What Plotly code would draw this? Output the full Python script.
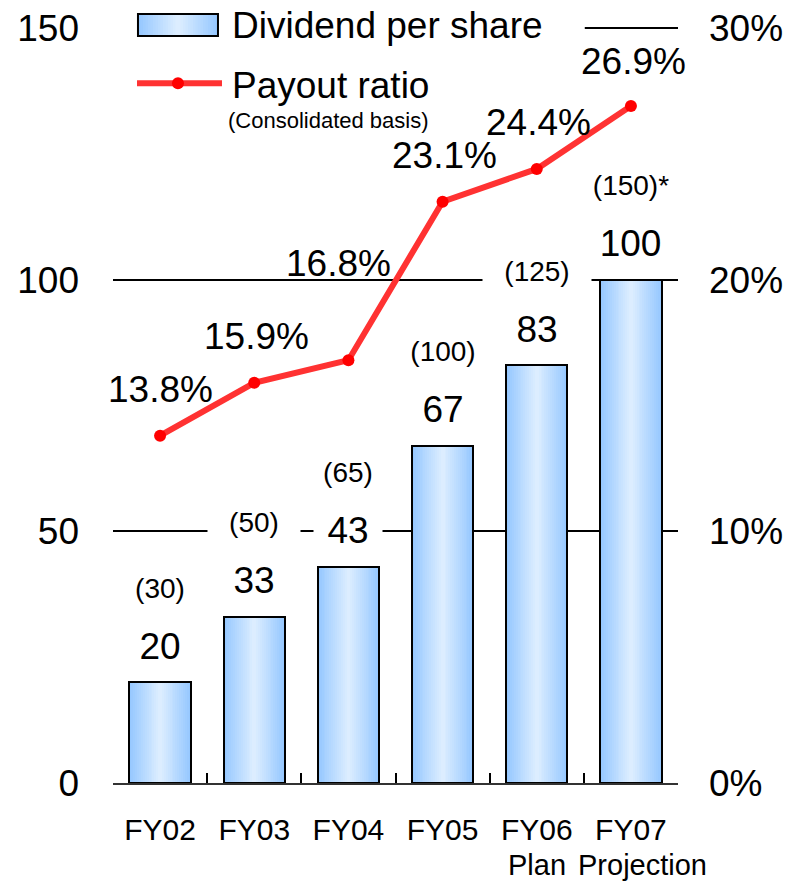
import plotly.graph_objects as go

# ---------------- data ----------------
categories = ["FY02", "FY03", "FY04", "FY05", "FY06", "FY07"]
sub_labels = ["", "", "", "", "Plan", "Projection"]
dividend = [20, 33, 43, 67, 83, 100]
dividend_note = ["(30)", "(50)", "(65)", "(100)", "(125)", "(150)*"]
payout = [13.8, 15.9, 16.8, 23.1, 24.4, 26.9]
left_ticks = [0, 50, 100, 150]
right_ticks = [0, 10, 20, 30]
right_tick_labels = ["0%", "10%", "20%", "30%"]

# ---------------- styles ----------------
FONT = "Liberation Sans, Arial, sans-serif"
BAR_W = 0.65
EDGE = (150, 200, 255)
CENTER = (220, 237, 255)
N_LAYERS = 16
pct_yshift = [46, 46, 97, 46, 46, 45]
pct_xshift = [0, 2, -10, 2, 2, 3]
sub_xshift = [0, 0, 0, 0, 0, 12]
Y_TOP = 150.4   # tiny headroom so the 150 gridline is drawn


def mix(t):
    return "rgb(%d,%d,%d)" % tuple(round(EDGE[k] + (CENTER[k] - EDGE[k]) * t) for k in range(3))


fig = go.Figure()

# gradient bars built from overlaid bars of decreasing width
for i in range(N_LAYERS):
    t = i / (N_LAYERS - 1)
    w = BAR_W * (1 - i / N_LAYERS)
    fig.add_trace(go.Bar(
        x=categories, y=dividend, width=w,
        marker=dict(color=mix(t), line=dict(width=0)),
        showlegend=False, hoverinfo="skip"))
# outline
fig.add_trace(go.Bar(
    x=categories, y=dividend, width=BAR_W,
    marker=dict(color="rgba(0,0,0,0)", line=dict(color="black", width=2)),
    showlegend=False, name="Dividend per share"))

# payout ratio line
fig.add_trace(go.Scatter(
    x=categories, y=payout, yaxis="y2", mode="lines+markers",
    line=dict(color="rgb(255,50,50)", width=6),
    marker=dict(color="rgb(255,0,0)", size=12),
    showlegend=False, name="Payout ratio"))

annotations = []
for c, v in zip(categories, dividend):
    s = str(v)
    annotations.append(dict(
        x=c, y=v, xref="x", yref="y", text=s, showarrow=False,
        yshift=36, yanchor="middle", bgcolor="white", borderpad=0,
        width=23 * len(s) + 22,
        font=dict(family=FONT, size=37, color="black")))
for c, v, s in zip(categories, dividend, dividend_note):
    annotations.append(dict(
        x=c, y=v, xref="x", yref="y", text=s, showarrow=False,
        yshift=94, yanchor="middle", bgcolor="white", borderpad=0,
        width=16 * len(s) + 28,
        font=dict(family=FONT, size=28, color="black")))
for c, p, ys, xs in zip(categories, payout, pct_yshift, pct_xshift):
    annotations.append(dict(
        x=c, y=p, xref="x", yref="y2", text="%.1f%%" % p, showarrow=False,
        yshift=ys, xshift=xs, yanchor="middle",
        font=dict(family=FONT, size=37, color="black")))
for c, s, xs in zip(categories, sub_labels, sub_xshift):
    if s:
        annotations.append(dict(
            x=c, y=0, xref="x", yref="paper", text=s, showarrow=False,
            yshift=-82, xshift=xs, yanchor="middle",
            font=dict(family=FONT, size=29, color="black")))

# manual legend
annotations += [
    dict(x=0.207, y=1.0013, xref="paper", yref="paper", text="Dividend per share",
         showarrow=False, xanchor="left", yanchor="middle",
         font=dict(family=FONT, size=37, color="black")),
    dict(x=0.207, y=0.9219, xref="paper", yref="paper", text="Payout ratio",
         showarrow=False, xanchor="left", yanchor="middle",
         font=dict(family=FONT, size=37, color="black")),
    dict(x=0.200, y=0.8755, xref="paper", yref="paper", text="(Consolidated basis)",
         showarrow=False, xanchor="left", yanchor="middle",
         font=dict(family=FONT, size=22, color="black")),
]

shapes = [
    # white background of legend hiding the top gridline
    dict(type="rect", xref="paper", yref="paper", x0=-0.02, x1=0.835, y0=0.985, y1=1.02,
         fillcolor="white", line=dict(width=0), layer="above"),
]
lx0, lx1, ly0, ly1 = 0.0442, 0.1858, 0.9868, 1.0159
lc = (lx0 + lx1) / 2
for i in range(N_LAYERS):
    t = i / (N_LAYERS - 1)
    hw = (lx1 - lx0) / 2 * (1 - i / N_LAYERS)
    shapes.append(dict(type="rect", xref="paper", yref="paper",
                       x0=lc - hw, x1=lc + hw, y0=ly0, y1=ly1,
                       fillcolor=mix(t), line=dict(width=0), layer="above"))
shapes.append(dict(type="rect", xref="paper", yref="paper", x0=lx0, x1=lx1, y0=ly0, y1=ly1,
                   fillcolor="rgba(0,0,0,0)", line=dict(color="black", width=2), layer="above"))
shapes.append(dict(type="line", xref="paper", yref="paper", x0=0.0425, x1=0.1929,
                   y0=0.9245, y1=0.9245, line=dict(color="rgb(255,50,50)", width=6),
                   layer="above"))
shapes.append(dict(type="circle", xref="paper", yref="paper", xsizemode="pixel",
                   ysizemode="pixel", xanchor=0.115, yanchor=0.9245,
                   x0=-6, x1=6, y0=-6, y1=6, fillcolor="rgb(255,0,0)",
                   line=dict(width=0), layer="above"))

fig.update_layout(
    width=792, height=882, autosize=False,
    margin=dict(l=113, r=114, t=26, b=99),
    paper_bgcolor="white", plot_bgcolor="white",
    barmode="overlay", bargap=0,
    font=dict(family=FONT, color="black"),
    xaxis=dict(type="category", categoryorder="array", categoryarray=categories,
               tickmode="array", tickvals=categories, ticktext=categories,
               tickangle=0, automargin=False,
               range=[-0.5, 5.5], showgrid=False, zeroline=False,
               showline=True, linecolor="#333333", linewidth=2,
               ticks="inside", tickson="boundaries", ticklen=10, tickwidth=2,
               tickcolor="black", ticklabelstandoff=19,
               tickfont=dict(family=FONT, size=30, color="black")),
    yaxis=dict(range=[0, Y_TOP], tickmode="array", tickvals=left_ticks, showgrid=True,
               gridcolor="black", gridwidth=1.5, zeroline=False, showline=False,
               ticks="", ticklabelstandoff=33, automargin=False,
               tickfont=dict(family=FONT, size=37, color="black")),
    yaxis2=dict(range=[0, Y_TOP / 5], tickmode="array", tickvals=right_ticks,
                ticktext=right_tick_labels, overlaying="y",
                side="right", showgrid=False, zeroline=False, showline=False,
                ticks="", ticklabelstandoff=30, automargin=False,
                tickfont=dict(family=FONT, size=37, color="black")),
    annotations=annotations,
    shapes=shapes,
)

fig.write_html(
    "out.html",
    config={"displayModeBar": False},
    post_script="document.body.style.margin='0';document.body.style.overflow='hidden';",
)
